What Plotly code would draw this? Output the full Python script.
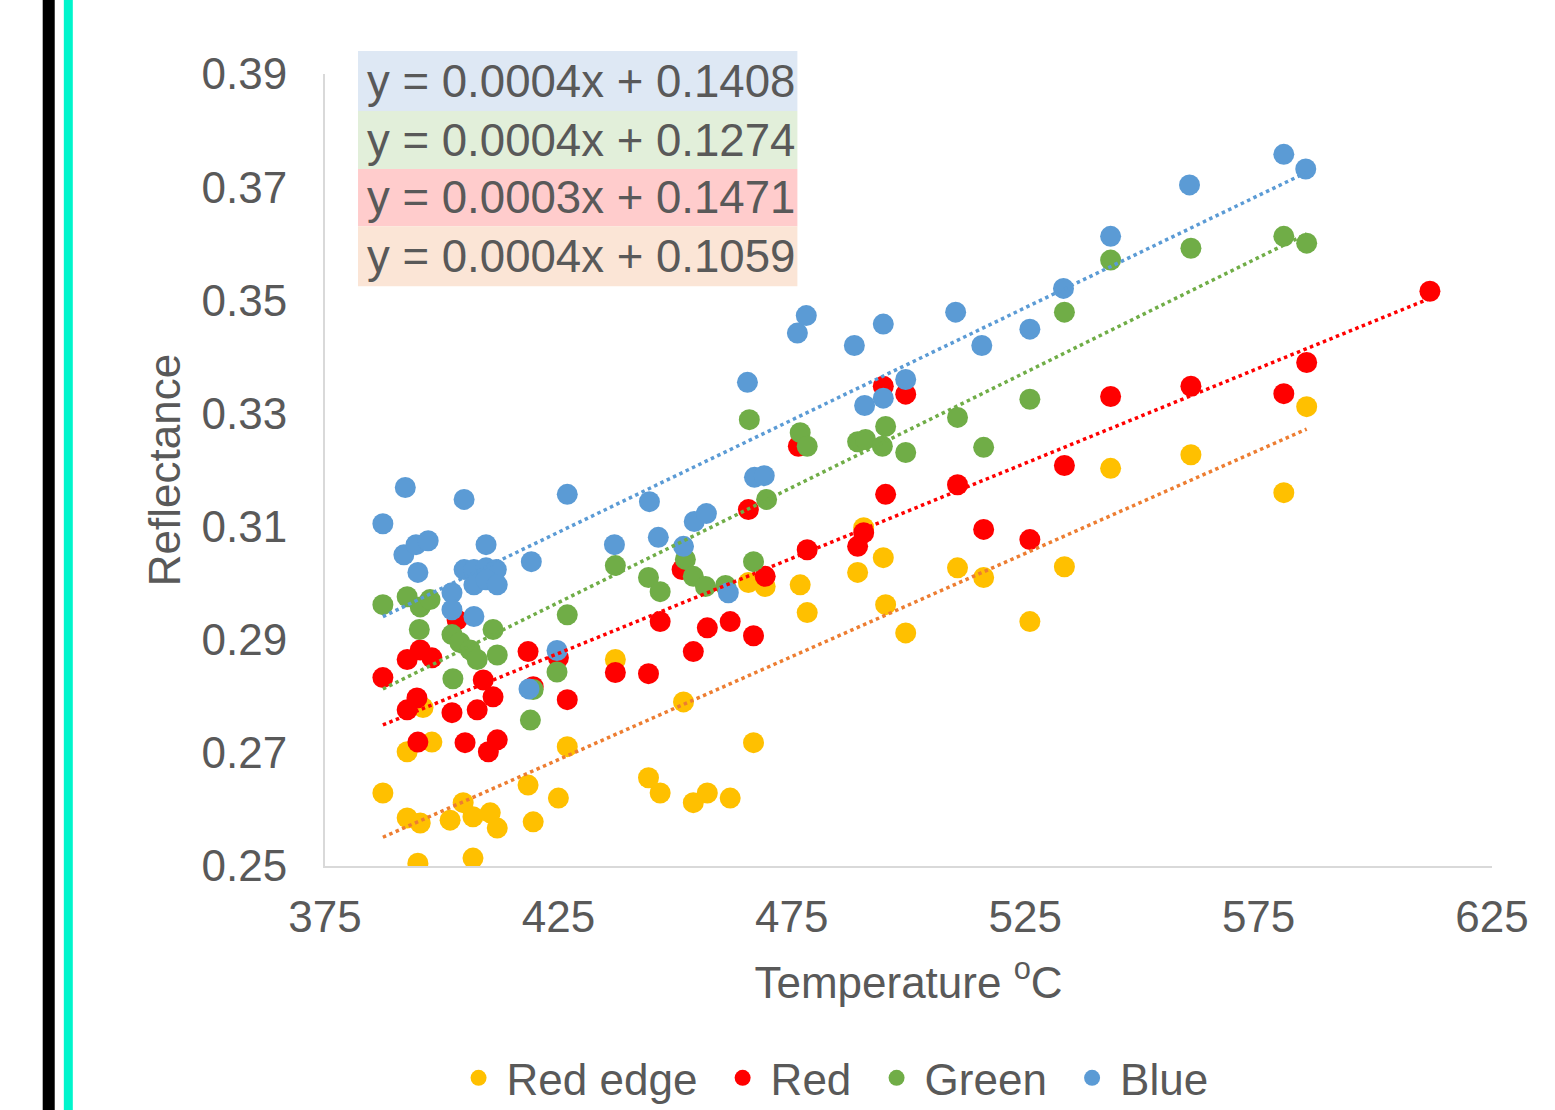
import numpy as np
import plotly.graph_objects as go

# ---------------- data ----------------
series_names = ["Red edge", "Red", "Green", "Blue"]

rededge_x = [387.4, 392.6, 397.9, 396.0, 392.6, 395.4, 394.9, 401.8, 404.6, 406.7, 410.4, 411.9,
             406.7, 418.5, 419.6, 425.0, 426.9, 437.2, 451.8, 444.3, 446.8, 453.9, 456.9, 461.8,
             466.8, 465.7, 469.3, 476.8, 478.3, 489.1, 490.4, 494.6, 495.1, 499.4, 510.5, 516.1,
             526.0, 533.4, 543.3, 560.5, 580.4, 585.3]
rededge_y = [0.2629, 0.2702, 0.2719, 0.2780, 0.2585, 0.2576, 0.2505, 0.2581, 0.2612, 0.2587, 0.2594, 0.2567,
             0.2514, 0.2643, 0.2578, 0.2620, 0.2711, 0.2865, 0.2790, 0.2656, 0.2629, 0.2612, 0.2629, 0.2620,
             0.2718, 0.3001, 0.2994, 0.2997, 0.2948, 0.3019, 0.3098, 0.3045, 0.2962, 0.2912, 0.3027, 0.3010,
             0.2932, 0.3029, 0.3203, 0.3227, 0.3160, 0.3312]

red_x = [387.4, 392.6, 395.4, 397.9, 403.3, 392.6, 394.7, 402.2, 407.6, 408.9, 411.0, 394.9,
         405.0, 410.0, 411.9, 418.5, 425.0, 419.6, 426.9, 437.2, 444.3, 446.8, 453.9, 456.9,
         461.8, 466.8, 451.5, 465.7, 469.3, 478.3, 476.4, 489.1, 490.4, 495.1, 494.6, 499.4,
         510.5, 516.1, 526.0, 533.4, 543.3, 560.5, 580.4, 585.3, 611.7]
red_y = [0.2833, 0.2865, 0.2882, 0.2868, 0.2935, 0.2776, 0.2797, 0.2771, 0.2776, 0.2829, 0.2799, 0.2719,
         0.2718, 0.2702, 0.2723, 0.2879, 0.2868, 0.2817, 0.2794, 0.2842, 0.2840, 0.2932, 0.2879, 0.2921,
         0.2932, 0.2907, 0.3024, 0.3130, 0.3012, 0.3059, 0.3242, 0.3065, 0.3089, 0.3157, 0.3348, 0.3334,
         0.3174, 0.3095, 0.3077, 0.3208, 0.3330, 0.3348, 0.3335, 0.3390, 0.3516]

green_x = [387.4, 392.6, 395.4, 397.5, 395.2, 402.2, 403.9, 406.1, 407.6, 411.0, 411.9, 402.4,
           419.0, 419.6, 426.9, 424.7, 437.2, 444.3, 446.8, 452.2, 453.9, 456.5, 460.8, 466.8,
           469.6, 465.9, 476.8, 478.3, 489.1, 490.8, 495.1, 494.4, 499.4, 510.5, 516.1, 526.0,
           533.4, 543.3, 560.5, 580.4, 585.3]
green_y = [0.2962, 0.2976, 0.2958, 0.2971, 0.2918, 0.2909, 0.2895, 0.2882, 0.2865, 0.2918, 0.2873, 0.2831,
           0.2758, 0.2812, 0.2944, 0.2843, 0.3031, 0.3010, 0.2985, 0.3042, 0.3012, 0.2994, 0.2996, 0.3038,
           0.3148, 0.3289, 0.3266, 0.3242, 0.3250, 0.3254, 0.3277, 0.3242, 0.3231, 0.3293, 0.3240, 0.3325,
           0.3479, 0.3571, 0.3592, 0.3613, 0.3601]

blue_x = [387.4, 392.2, 391.9, 394.5, 397.1, 394.9, 404.8, 402.2, 402.2, 404.8, 406.9, 409.5,
          411.7, 409.5, 406.9, 409.5, 411.9, 406.9, 419.2, 426.9, 418.7, 424.7, 437.0, 444.5,
          446.4, 451.8, 454.1, 456.7, 461.4, 465.5, 467.0, 469.1, 476.2, 478.1, 488.4, 494.6,
          490.6, 494.6, 499.4, 510.1, 515.7, 526.0, 533.2, 543.3, 560.2, 580.4, 585.1]
blue_y = [0.3105, 0.3169, 0.3050, 0.3068, 0.3075, 0.3019, 0.3148, 0.2983, 0.2953, 0.3024, 0.3024, 0.3027,
          0.3024, 0.3068, 0.2997, 0.3006, 0.2997, 0.2941, 0.3038, 0.3157, 0.2813, 0.2881, 0.3068, 0.3144,
          0.3081, 0.3065, 0.3109, 0.3123, 0.2983, 0.3355, 0.3187, 0.3190, 0.3442, 0.3473, 0.3420, 0.3458,
          0.3314, 0.3327, 0.3360, 0.3479, 0.3420, 0.3449, 0.3521, 0.3613, 0.3704, 0.3758, 0.3732]

equation_labels = ["y = 0.0004x + 0.1408", "y = 0.0004x + 0.1274",
                   "y = 0.0003x + 0.1471", "y = 0.0004x + 0.1059"]

x_ticks = [375, 425, 475, 525, 575, 625]
y_ticks = [0.25, 0.27, 0.29, 0.31, 0.33, 0.35, 0.37, 0.39]

# ---------------- styling ----------------
FONT = "Liberation Sans, Arial, sans-serif"
GRAY = "#595959"
marker_colors = {"Red edge": "#FFC000", "Red": "#FF0000", "Green": "#70AD47", "Blue": "#5B9BD5"}
trend_colors = {"Red edge": "#ED7D31", "Red": "#FF0000", "Green": "#70AD47", "Blue": "#5B9BD5"}
box_colors = ["#DEE8F4", "#E2EFDA", "#FFCCCC", "#FBE5D6"]
NBSP = "\u00a0"

data = {"Red edge": (rededge_x, rededge_y), "Red": (red_x, red_y),
        "Green": (green_x, green_y), "Blue": (blue_x, blue_y)}

fig = go.Figure()
for i, name in enumerate(series_names):
    xs, ys = data[name]
    label = name + (NBSP if i < len(series_names) - 1 else "")
    fig.add_trace(go.Scatter(x=xs, y=ys, mode="markers", name=label,
                             marker=dict(color=marker_colors[name], size=21, line=dict(width=0))))

# linear trendlines (least squares)
for name in series_names:
    xs, ys = data[name]
    k, b = np.polyfit(xs, ys, 1)
    xl = np.array([min(xs), max(xs)])
    fig.add_trace(go.Scatter(x=xl, y=k * xl + b, mode="lines", showlegend=False, hoverinfo="skip",
                             line=dict(color=trend_colors[name], width=3.5, dash="dot")))

# equation box
row_edges = [1.0291, 0.9532, 0.8799, 0.8078, 0.7320]
shapes = []
annotations = []
for i, (txt, col) in enumerate(zip(equation_labels, box_colors)):
    shapes.append(dict(type="rect", xref="paper", yref="paper", x0=0.0283, x1=0.4048,
                       y0=row_edges[i + 1], y1=row_edges[i], fillcolor=col, line=dict(width=0),
                       layer="below"))
    annotations.append(dict(xref="paper", yref="paper", x=0.0345, y=(row_edges[i] + row_edges[i + 1]) / 2,
                            xanchor="left", yanchor="middle", text=txt, showarrow=False,
                            font=dict(family=FONT, size=45.6, color=GRAY)))

# left-edge decorations (black and cyan vertical bars)
shapes.append(dict(type="rect", xref="paper", yref="paper", x0=-0.2419, x1=-0.2316, y0=-0.4, y1=1.2,
                   fillcolor="#000000", line=dict(width=0)))
shapes.append(dict(type="rect", xref="paper", yref="paper", x0=-0.2238, x1=-0.2161, y0=-0.4, y1=1.2,
                   fillcolor="#00F5CC", line=dict(width=0)))

fig.update_layout(
    width=1555, height=1110,
    margin=dict(l=325, r=63, t=74, b=244, autoexpand=False),
    paper_bgcolor="white", plot_bgcolor="white",
    font=dict(family=FONT, size=44, color=GRAY),
    shapes=shapes, annotations=annotations,
    legend=dict(orientation="h", x=0.4345, xanchor="center", y=-0.268, yanchor="middle",
                font=dict(family=FONT, size=44, color=GRAY), itemsizing="trace", itemwidth=46,
                bgcolor="rgba(0,0,0,0)"),
    xaxis=dict(range=[375, 625], tickvals=x_ticks, ticktext=[str(v) for v in x_ticks],
               showgrid=False, zeroline=False, showline=True, linecolor="#D9D9D9", linewidth=2,
               ticks="", ticklabelstandoff=11, tickfont=dict(size=44, color=GRAY),
               title=dict(text="Temperature <sup>o</sup>C", font=dict(size=44, color=GRAY), standoff=27)),
    yaxis=dict(range=[0.25, 0.39], tickvals=y_ticks, ticktext=[f"{v:.2f}" for v in y_ticks],
               showgrid=False, zeroline=False, showline=True, linecolor="#D9D9D9", linewidth=2,
               ticks="", ticklabelstandoff=27, tickfont=dict(size=44, color=GRAY),
               title=dict(text="Reflectance", font=dict(size=44, color=GRAY), standoff=7)),
)

fig.write_html("out.html", config={"displayModeBar": False},
               post_script="document.body.style.margin='0';")
